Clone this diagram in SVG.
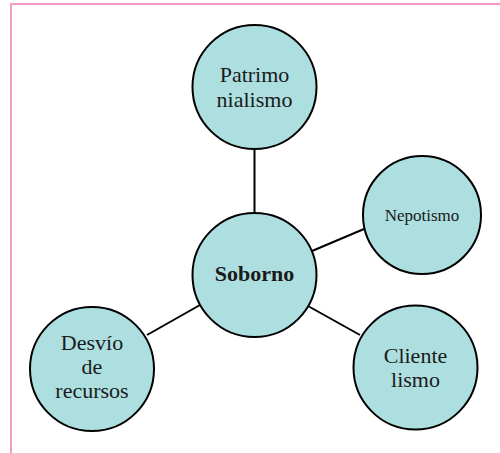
<svg xmlns="http://www.w3.org/2000/svg" width="500" height="453" viewBox="0 0 500 453">
<style>
.n{fill:#addfe0;stroke:#000;stroke-width:2}
.t{font-family:"Liberation Serif",serif;font-size:22px;fill:#1a1a1a;text-anchor:middle}
.c{stroke:#000;stroke-width:2;fill:none}
.b{stroke:#f59ac3;stroke-width:2;fill:none}
</style>
<rect width="500" height="453" fill="#fff"/>
<path class="b" d="M11,453 V4 H500"/>
<g id="connectors">
<line class="c" x1="254.5" y1="149" x2="254.5" y2="213"/>
<line class="c" x1="312" y1="251" x2="364" y2="229"/>
<line class="c" x1="200" y1="305" x2="147" y2="335"/>
<line class="c" x1="308" y1="306" x2="360" y2="335"/>
</g>
<g id="soborno">
<circle class="n" cx="254.5" cy="275" r="62"/>
<text class="t" x="254.5" y="281" font-weight="bold">Soborno</text>
</g>
<g id="patrimonialismo">
<circle class="n" cx="254.5" cy="87" r="62"/>
<text class="t" x="254.5" y="82">Patrimo</text>
<text class="t" x="254.5" y="107">nialismo</text>
</g>
<g id="nepotismo">
<circle class="n" cx="422" cy="215" r="59"/>
<text class="t" x="422" y="221" style="font-size:17px">Nepotismo</text>
</g>
<g id="desvio">
<circle class="n" cx="92" cy="369" r="62"/>
<text class="t" x="92" y="350">Desvío</text>
<text class="t" x="92" y="374">de</text>
<text class="t" x="92" y="398">recursos</text>
</g>
<g id="clientelismo">
<circle class="n" cx="415.5" cy="367.5" r="62"/>
<text class="t" x="415.5" y="363">Cliente</text>
<text class="t" x="415.5" y="387">lismo</text>
</g>
</svg>
